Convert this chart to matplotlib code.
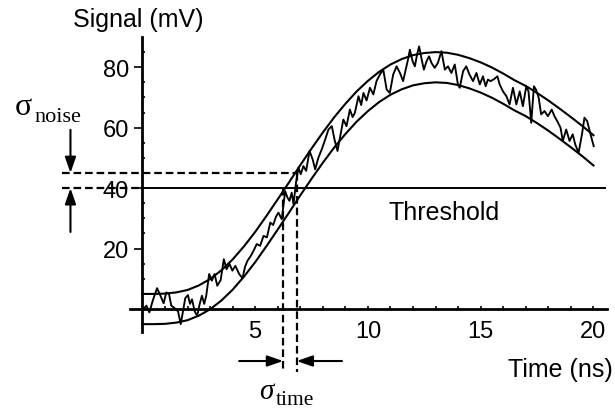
import matplotlib
matplotlib.use("Agg")
import matplotlib.pyplot as plt
import numpy as np

plt.rcParams['lines.scale_dashes'] = False
plt.rcParams['font.family'] = ['Liberation Sans', 'DejaVu Sans']

# ---------------- data ----------------
# smooth (noise-free) pulse, sampled every 0.5 ns (mV)
pulse_t = [0.0, 0.5, 1.0, 1.5, 2.0, 2.5, 3.0, 3.5, 4.0, 4.5, 5.0, 5.5, 6.0, 6.5,
           7.0, 7.5, 8.0, 8.5, 9.0, 9.5, 10.0, 10.5, 11.0, 11.5, 12.0, 12.5, 13.0,
           13.5, 14.0, 14.5, 15.0, 15.5, 16.0, 16.5, 17.0, 17.5, 18.0, 18.5, 19.0,
           19.5, 20.0]
pulse_v = [0.0, 0.0, 0.1, 0.5, 1.3, 2.8, 4.9, 7.8, 11.4, 15.7, 20.5, 25.8, 31.3,
           36.9, 42.6, 48.1, 53.4, 58.4, 62.9, 67.0, 70.5, 73.5, 75.9, 77.7, 79.0,
           79.7, 80.0, 79.8, 79.1, 78.0, 76.6, 74.9, 72.9, 70.7, 68.8, 66.5, 64.0,
           61.3, 58.5, 55.6, 52.5]
sigma_noise = 5.0      # mV, envelope half width
threshold = 40.0       # mV

# noisy measured signal
noisy_t = [0.00, 0.18, 0.31, 0.46, 0.65, 0.80, 0.94, 1.06, 1.18, 1.28, 1.43, 1.58,
           1.70, 1.80, 1.90, 2.02, 2.11, 2.20, 2.32, 2.43, 2.54, 2.64, 2.74, 2.83,
           2.96, 3.08, 3.20, 3.32, 3.47, 3.61, 3.73, 3.86, 3.99, 4.12, 4.29, 4.44,
           4.55, 4.66, 4.80, 4.93, 5.07, 5.22, 5.37, 5.52, 5.67, 5.80, 5.92, 6.03,
           6.18, 6.25, 6.33, 6.43, 6.52, 6.62, 6.70, 6.81, 6.92, 7.02, 7.14, 7.26,
           7.41, 7.55, 7.66, 7.80, 7.95, 8.10, 8.25, 8.40, 8.52, 8.65, 8.78, 8.91,
           9.05, 9.20, 9.32, 9.42, 9.58, 9.70, 9.80, 9.94, 10.09, 10.24, 10.38,
           10.53, 10.68, 10.83, 10.97, 11.12, 11.27, 11.42, 11.56, 11.79, 11.86,
           11.98, 12.08, 12.18, 12.27, 12.37, 12.48, 12.60, 12.71, 12.82, 12.96,
           13.10, 13.26, 13.41, 13.55, 13.70, 13.85, 13.99, 14.07, 14.22, 14.36,
           14.50, 14.66, 14.81, 14.96, 15.10, 15.22, 15.32, 15.44, 15.58, 15.74,
           15.84, 15.99, 16.14, 16.28, 16.43, 16.58, 16.73, 16.87, 17.02, 17.12,
           17.24, 17.36, 17.46, 17.57, 17.68, 17.83, 17.98, 18.15, 18.27, 18.39,
           18.54, 18.64, 18.79, 18.94, 19.08, 19.19, 19.34, 19.49, 19.60, 19.72,
           19.87, 20.01]
noisy_v = [-0.3, 1.1, -1.1, 2.8, 6.9, 4.4, 1.9, 5.5, 5.0, 1.1, 0.3, -0.8,
           -5.0, -0.8, 3.6, 4.6, 1.7, 3.2, -0.8, -2.2, 1.7, 4.4, 1.7, 4.4,
           11.6, 9.4, 11.6, 7.7, 9.6, 16.5, 13.2, 14.9, 12.7, 14.3, 11.6, 10.2,
           14.0, 16.0, 17.5, 19.3, 21.5, 20.9, 24.2, 23.7, 28.6, 27.8, 30.5, 31.9,
           29.7, 34.1, 39.0, 36.9, 35.8, 38.5, 34.7, 41.8, 46.8, 44.6, 47.3, 45.7,
           52.3, 49.5, 46.2, 50.0, 52.8, 56.0, 59.4, 60.5, 56.0, 52.3, 57.5, 62.7,
           60.5, 66.0, 63.5, 64.9, 70.4, 67.5, 71.5, 69.0, 73.2, 71.0, 75.4,
           77.6, 79.2, 72.6, 71.5, 77.6, 80.3, 78.1, 75.4, 83.0, 85.8,
           82.0, 80.3, 84.2, 86.9, 83.0, 79.2, 82.0, 83.6, 81.4, 79.8,
           81.4, 85.3, 79.2, 80.3, 78.1, 80.9, 74.3, 73.2, 78.7, 80.3,
           77.6, 75.4, 78.1, 74.3, 77.0, 73.7, 75.9, 75.4, 76.0, 77.0,
           74.3, 72.0, 70.4, 67.7, 73.2, 67.7, 72.0, 67.1, 73.7, 72.0,
           61.6, 73.7, 72.5, 69.9, 64.4, 65.5, 63.8, 66.0, 63.8, 62.2,
           60.0, 55.6, 59.4, 55.6, 57.8, 54.5, 51.7, 57.8, 63.3, 62.2,
           57.8, 53.9]

# construction points
t_cross_upper = 6.24   # upper envelope crosses threshold
t_cross_mid = 6.84     # upper envelope crosses threshold + sigma

x_major = [5, 10, 15, 20]
y_major = [20, 40, 60, 80]

# ---------------- figure ----------------
W, H = 615, 410
fig = plt.figure(figsize=(W / 100, H / 100), dpi=100)
ax = fig.add_axes([130 / W, (H - 333) / H, 477 / W, 295 / H])
ax.set_xlim(-0.55, 20.6)
ax.set_ylim(-7.6, 90)

for s in ['top', 'right']:
    ax.spines[s].set_visible(False)
ax.spines['left'].set_position(('data', 0))
ax.spines['bottom'].set_position(('data', 0))
for s in ['left', 'bottom']:
    ax.spines[s].set_linewidth(2.0)

ax.set_xticks(x_major)
ax.set_xticklabels([str(v) for v in x_major])
ax.set_xticks([v for v in range(1, 21) if v not in x_major], minor=True)
ax.set_yticks(y_major)
ax.set_yticklabels([str(v) for v in y_major])
ax.set_yticks([v for v in range(5, 90, 5) if v not in y_major], minor=True)

ax.tick_params(axis='x', which='both', direction='in', length=2.5, width=1.2,
               labelsize=17, pad=8)
ax.tick_params(axis='y', which='major', direction='out', length=5.5, width=1.2,
               labelsize=17, pad=4)
ax.tick_params(axis='y', which='minor', direction='in', length=2.5, width=1.2)

pt = np.array(pulse_t)
pv = np.array(pulse_v)
lw_curve = 1.5
ax.plot(pt, pv + sigma_noise, color='black', lw=lw_curve, clip_on=False)
ax.plot(pt, pv - sigma_noise, color='black', lw=lw_curve, clip_on=False)
ax.plot(noisy_t, noisy_v, color='black', lw=1.35, clip_on=False)

# threshold
ax.plot([0, 20.5], [threshold, threshold], color='black', lw=1.4, clip_on=False)

# dashed construction lines
dash = dict(color='black', lw=1.6, dashes=(5.5, 2.8), clip_on=False)
ax.plot([-3.55, t_cross_mid], [threshold + sigma_noise] * 2, **dash)
ax.plot([-3.55, 0], [threshold, threshold], **dash)
ax.plot([t_cross_upper, t_cross_upper], [threshold, -20.8], **dash)
ax.plot([t_cross_mid, t_cross_mid], [threshold + sigma_noise, -20.8], **dash)

# arrows
arr = dict(arrowstyle='-|>,head_length=0.95,head_width=0.33', color='black',
           lw=1.5, shrinkA=0, shrinkB=0)
ax.annotate('', xy=(-3.19, threshold + sigma_noise), xytext=(-3.19, 59.3),
            arrowprops=arr, annotation_clip=False)
ax.annotate('', xy=(-3.19, threshold), xytext=(-3.19, 25.5),
            arrowprops=arr, annotation_clip=False)
ax.annotate('', xy=(t_cross_upper, -17.2), xytext=(4.29, -17.2),
            arrowprops=arr, annotation_clip=False)
ax.annotate('', xy=(t_cross_mid, -17.2), xytext=(8.85, -17.2),
            arrowprops=arr, annotation_clip=False)

# texts
def fx(px):
    return px / W

def fy(py):
    return 1 - py / H

fig.text(fx(73), fy(20), 'Signal (mV)', fontsize=18, ha='left', va='center')
fig.text(fx(613), fy(370), 'Time (ns)', fontsize=18, ha='right', va='center')
ax.text(13.36, 32, 'Threshold', fontsize=18, ha='center', va='center')

serif = ['Liberation Serif', 'DejaVu Serif']
fig.text(fx(15), fy(115), 'σ', fontsize=23, family=serif, ha='left', va='baseline')
fig.text(fx(34), fy(122), 'noise', fontsize=16, family=serif, ha='left', va='baseline')
fig.text(fx(259), fy(399), 'σ', fontsize=21, family=serif, style='italic',
         ha='left', va='baseline')
fig.text(fx(276), fy(405), 'time', fontsize=15.5, family=serif, ha='left',
         va='baseline')

fig.savefig('out.png', dpi=100)
